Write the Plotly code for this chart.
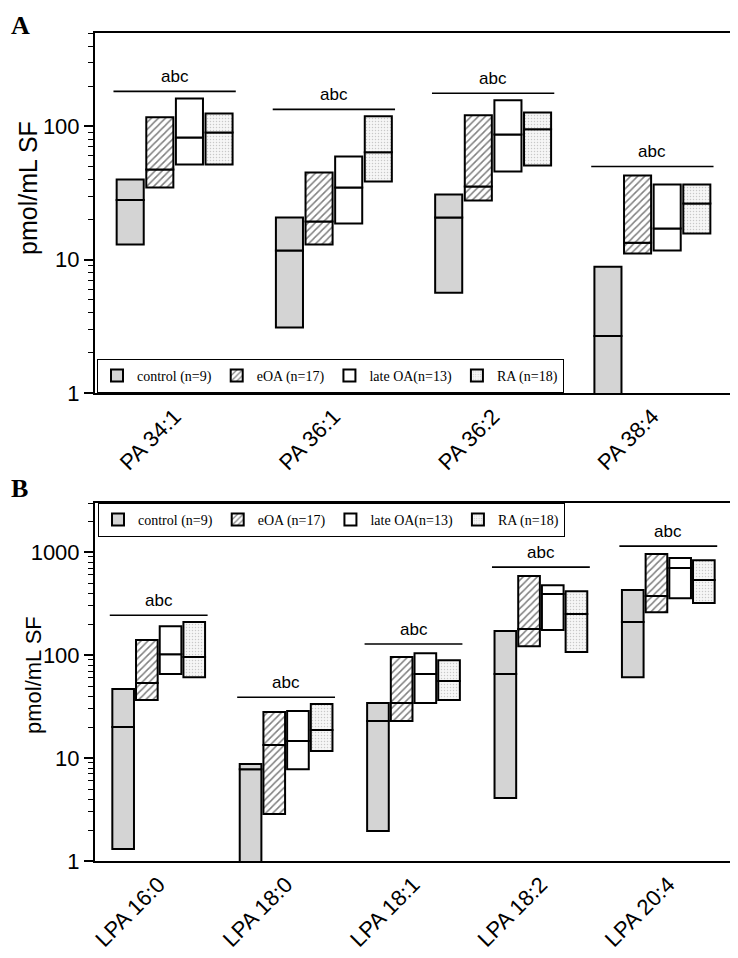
import numpy as np
import plotly.graph_objects as go

# ---------------- data ----------------
series_names = ["control (n=9)", "eOA (n=17)", "late OA(n=13)", "RA (n=18)"]

catsA = ["PA 34:1", "PA 36:1", "PA 36:2", "PA 38:4"]
A_low = {
    "control": [13, 3.1, 5.65, 0.5],
    "eOA": [34.8, 13, 27.8, 11.1],
    "late": [51.8, 18.7, 45.9, 11.7],
    "RA": [51.8, 38.6, 50.9, 15.7],
}
A_med = {
    "control": [28, 11.7, 20.7, 2.68],
    "eOA": [47.5, 19.3, 35.4, 13.4],
    "late": [82.5, 34.8, 87, 17.1],
    "RA": [90, 63.8, 95, 26.4],
}
A_high = {
    "control": [40, 20.7, 30.8, 8.86],
    "eOA": [117, 45, 121, 42.8],
    "late": [162, 59.5, 157, 36.6],
    "RA": [125, 119, 127, 36.6],
}
A_sig = [183, 134, 177, 50]

catsB = ["LPA 16:0", "LPA 18:0", "LPA 18:1", "LPA 18:2", "LPA 20:4"]
B_low = {
    "control": [1.31, 0.5, 1.96, 4.09, 61],
    "eOA": [36.6, 2.86, 22.9, 122, 261],
    "late": [65.5, 7.8, 34.2, 175, 357],
    "RA": [61, 11.7, 36.6, 107, 320],
}
B_med = {
    "control": [20, 7.8, 22.9, 65.5, 209],
    "eOA": [53.5, 13.4, 34.2, 179, 374],
    "late": [102, 14.6, 65.5, 391, 700],
    "RA": [95.6, 18.7, 56, 250, 535],
}
B_high = {
    "control": [46.8, 8.75, 34.2, 171, 428],
    "eOA": [140, 28, 95.6, 585, 957],
    "late": [191, 28.6, 104, 478, 875],
    "RA": [209, 33.4, 89, 418, 836],
}
B_sig = [244, 39, 128, 715, 1143]
sig_label = "abc"

# ---------------- styling ----------------
keys = ["control", "eOA", "late", "RA"]
styles = {
    "control": dict(color="#d4d4d4"),
    "eOA": dict(color="white", pattern=dict(shape="/", fgcolor="black", bgcolor="white", size=5, solidity=0.3)),
    "late": dict(color="white"),
    "RA": dict(color="#f6f6f6", pattern=dict(shape=".", fgcolor="#9a9a9a", bgcolor="#f6f6f6", size=3, solidity=0.2)),
}
step = 0.186
bw = 0.17
offsets = [-1.5 * step, -0.5 * step, 0.5 * step, 1.5 * step]
LW = 2

fig = go.Figure()
annots = []


def add_panel(cats, low, med, high, sig, xa, ya, legend):
    n = len(cats)
    xs0 = np.arange(n)
    for k, name, off in zip(keys, series_names, offsets):
        lo = np.array(low[k], float)
        md = np.array(med[k], float)
        hi = np.array(high[k], float)
        mk = dict(**styles[k], line=dict(color="black", width=LW))
        fig.add_trace(go.Bar(x=xs0 + off, y=md - lo, base=lo, width=bw, marker=mk,
                             name=name, showlegend=True, legend=legend, legendgroup=legend + k,
                             xaxis=xa, yaxis=ya, hoverinfo="skip"))
        fig.add_trace(go.Bar(x=xs0 + off, y=hi - md, base=md, width=bw, marker=mk,
                             name=name, showlegend=False, legend=legend, legendgroup=legend + k,
                             xaxis=xa, yaxis=ya, hoverinfo="skip"))
    half = 1.5 * step + bw / 2
    for i, s in enumerate(sig):
        fig.add_trace(go.Scatter(x=[i - half - 0.02, i + half + 0.02], y=[s, s], mode="lines",
                                 line=dict(color="black", width=1.6), showlegend=False,
                                 xaxis=xa, yaxis=ya, hoverinfo="skip"))
        annots.append(dict(x=i, y=np.log10(s), xref=xa, yref=ya, text=sig_label, showarrow=False,
                           yanchor="bottom", yshift=3,
                           font=dict(family="Liberation Sans, Arial", size=17, color="black")))


add_panel(catsA, A_low, A_med, A_high, A_sig, "x", "y", "legend")
add_panel(catsB, B_low, B_med, B_high, B_sig, "x2", "y2", "legend2")

OFF = 8  # page body margin
W, H = 738 - OFF, 958 - OFF
ml, mr, mt, mb = 95 - OFF, 6, 33 - OFF, 97
ph = H - mt - mb
pw = W - ml - mr


def py(pix):
    return (H - mb - (pix - OFF)) / ph


def px(pix):
    return (pix - OFF - ml) / pw


font_ax = dict(family="Liberation Sans, Arial", size=22, color="black")


def minor_vals(maxexp):
    return [m * 10 ** e for e in range(0, maxexp + 1) for m in range(2, 10)]


axis_common = dict(showline=True, linecolor="black", linewidth=2, mirror=True,
                   showgrid=False, zeroline=False, automargin=False)

leg_font = dict(family="Liberation Serif, Times New Roman", size=14, color="black")

fig.update_layout(
    width=W, height=H,
    margin=dict(l=ml, r=mr, t=mt, b=mb),
    plot_bgcolor="white", paper_bgcolor="white",
    barmode="overlay",
    xaxis=dict(domain=[0, 1], anchor="y", range=[-0.5, 3.5], tickmode="array",
               tickvals=list(range(len(catsA))), ticktext=catsA, tickangle=-45,
               ticks="", tickfont=font_ax, **axis_common),
    yaxis=dict(domain=[py(393), py(33)], anchor="x", type="log", range=[0, 2.7],
               tickmode="array", tickvals=[1, 10, 100], ticktext=["1", "10", "100"],
               ticks="outside", ticklen=9, tickwidth=1.5, tickcolor="black",
               minor=dict(tickvals=minor_vals(2), ticks="outside", ticklen=5, tickwidth=1.2, tickcolor="black"),
               tickfont=font_ax, **axis_common),
    xaxis2=dict(domain=[0, 1], anchor="y2", range=[-0.5, 4.5], tickmode="array",
                tickvals=list(range(len(catsB))), ticktext=catsB, tickangle=-45,
                ticks="", tickfont=font_ax, **axis_common),
    yaxis2=dict(domain=[0, py(503)], anchor="x2", type="log", range=[0, np.log10(3000)],
                tickmode="array", tickvals=[1, 10, 100, 1000], ticktext=["1", "10", "100", "1000"],
                ticks="outside", ticklen=9, tickwidth=1.5, tickcolor="black",
                minor=dict(tickvals=minor_vals(3), ticks="outside", ticklen=5, tickwidth=1.2, tickcolor="black"),
                tickfont=font_ax, **axis_common),
    legend=dict(orientation="h", x=px(97), y=py(376), xanchor="left", yanchor="middle",
                bgcolor="white", bordercolor="black", borderwidth=1, font=leg_font,
                itemsizing="constant", tracegroupgap=0),
    legend2=dict(orientation="h", x=px(98), y=py(520), xanchor="left", yanchor="middle",
                 bgcolor="white", bordercolor="black", borderwidth=1, font=leg_font,
                 itemsizing="constant", tracegroupgap=0),
    annotations=annots + [
        dict(text="pmol/mL SF", textangle=-90, x=px(28), y=py(188), xref="paper", yref="paper",
             showarrow=False, xanchor="center", yanchor="middle",
             font=dict(family="Liberation Sans, Arial", size=25, color="black")),
        dict(text="pmol/mL SF", textangle=-90, x=px(33), y=py(675), xref="paper", yref="paper",
             showarrow=False, xanchor="center", yanchor="middle",
             font=dict(family="Liberation Sans, Arial", size=22, color="black")),
        dict(text="<b>A</b>", x=px(9), y=py(9), xref="paper", yref="paper", showarrow=False,
             xanchor="left", yanchor="top",
             font=dict(family="Liberation Serif, Times New Roman", size=26, color="black")),
        dict(text="<b>B</b>", x=px(9), y=py(488), xref="paper", yref="paper", showarrow=False,
             xanchor="left", yanchor="middle",
             font=dict(family="Liberation Serif, Times New Roman", size=26, color="black")),
    ],
)

fig.write_html("out.html")
